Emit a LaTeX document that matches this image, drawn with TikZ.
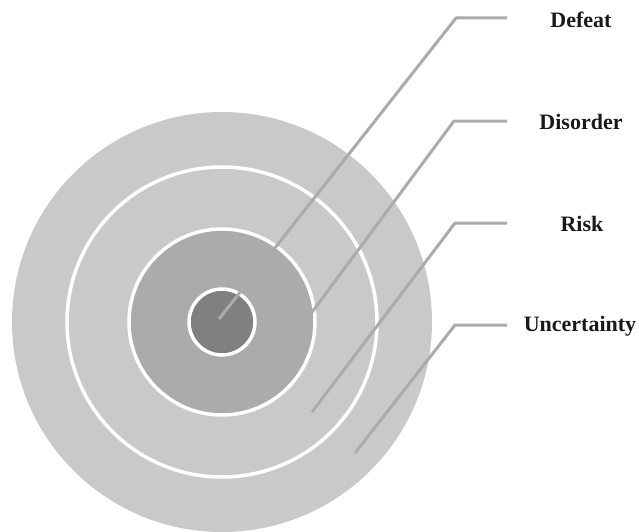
\documentclass[tikz,border=0pt]{standalone}
\usepackage{fontspec}
\setmainfont{Liberation Serif}
\definecolor{outerg}{HTML}{C9C9C9}
\definecolor{midg}{HTML}{ABABAB}
\definecolor{innerg}{HTML}{808080}
\definecolor{lineg}{HTML}{ABABAB}
\begin{document}
\begin{tikzpicture}[x=1pt,y=-1pt,
  ring/.style={draw=white,line width=3.5pt},
  leader/.style={draw=lineg,line width=3pt,line join=round},
  lbl/.style={font=\fontsize{22}{25}\selectfont\bfseries,inner sep=0pt,anchor=center,text=black!90}]
\useasboundingbox (0,0) rectangle (639,532);
\coordinate (c) at (222,322);
\fill[outerg] (c) circle (210);
\draw[ring] (c) circle (155);
\fill[midg] (c) circle (93);
\draw[ring] (c) circle (93);
\fill[innerg] (c) circle (33);
\draw[ring] (c) circle (33);
% labels
\node[lbl] (defeat) at (581,20) {Defeat};
\node[lbl] (disorder) at (581,122) {Disorder};
\node[lbl] (risk) at (582,224) {Risk};
\node[lbl] (unc) at (580,326) {Uncertainty};
% leader coordinates
\coordinate (s1) at (219,319);
\coordinate (k1) at (456,18);
\coordinate (e1) at (507,18);
\coordinate (s2) at (272,366);
\coordinate (k2) at (454,121);
\coordinate (e2) at (507,121);
\coordinate (s3) at (312,412);
\coordinate (k3) at (455,223);
\coordinate (e3) at (507,223);
\coordinate (s4) at (355,453);
\coordinate (k4) at (455,325);
\coordinate (e4) at (507,325);
\draw[leader] (s1) -- (k1) -- (e1);
\draw[leader] (s2) -- (k2) -- (e2);
\draw[leader] (s3) -- (k3) -- (e3);
\draw[leader] (s4) -- (k4) -- (e4);
\end{tikzpicture}
\end{document}
